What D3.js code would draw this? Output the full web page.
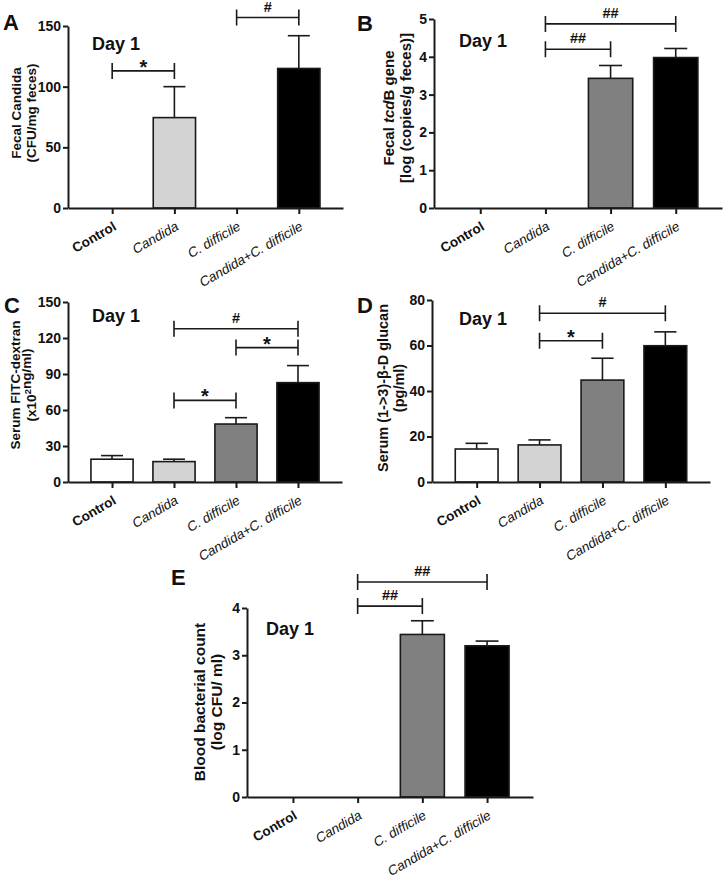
<!DOCTYPE html>
<html>
<head>
<meta charset="utf-8">
<script src="https://cdn.jsdelivr.net/npm/d3@7"></script>
<style>
  html, body { margin: 0; padding: 0; background: #fff; }
  svg { display: block; }
  text { font-family: "Liberation Sans", Arial, Helvetica, sans-serif; fill: #111; }
</style>
</head>
<body>
<svg id="chart" width="724" height="880"></svg>
<script>
// ---------------- DATA ----------------
const categories = ["Control", "Candida", "C. difficile", "Candida+C. difficile"];
const barColors = ["#ffffff", "#d3d3d3", "#808080", "#000000"];

// Panel A: Fecal Candida (CFU/mg feces)
const meanA = [0, 74.5, 0, 115];
const semA  = [0, 25.5, 0, 27];
const ticksA = [0, 50, 100, 150];
const sigA = [
  { from: 0, to: 1, y: 113, label: "*" },
  { from: 2, to: 3, y: 157, label: "#" }
];

// Panel B: Fecal tcdB gene [log (copies/g feces)]
const meanB = [0, 0, 3.43, 3.98];
const semB  = [0, 0, 0.34, 0.24];
const ticksB = [0, 1, 2, 3, 4, 5];
const sigB = [
  { from: 1, to: 3, y: 4.87, label: "##" },
  { from: 1, to: 2, y: 4.2, label: "##" }
];

// Panel C: Serum FITC-dextran (x10^2 ng/ml)
const meanC = [19, 17, 48.3, 82.8];
const semC  = [3, 2, 5.3, 14.2];
const ticksC = [0, 30, 60, 90, 120, 150];
const sigC = [
  { from: 1, to: 3, y: 127.7, label: "#" },
  { from: 2, to: 3, y: 112, label: "*" },
  { from: 1, to: 2, y: 68, label: "*" }
];

// Panel D: Serum (1->3)-β-D glucan (pg/ml)
const meanD = [14.5, 16.3, 44.8, 59.9];
const semD  = [2.5, 2.2, 9.6, 6.1];
const ticksD = [0, 20, 40, 60, 80];
const sigD = [
  { from: 1, to: 3, y: 74.2, label: "#" },
  { from: 1, to: 2, y: 62.1, label: "*" }
];

// Panel E: Blood bacterial count (log CFU/ ml)
const meanE = [0, 0, 3.44, 3.2];
const semE  = [0, 0, 0.29, 0.1];
const ticksE = [0, 1, 2, 3, 4];
const sigE = [
  { from: 1, to: 3, y: 4.55, label: "##" },
  { from: 1, to: 2, y: 4.04, label: "##" }
];

// ---------------- LAYOUT ----------------
const panels = [
  { letter: "A", mean: meanA, sem: semA, ticks: ticksA, sig: sigA,
    x0: 68, x1: 343, yTop: 26, yZero: 208,
    letterPos: [3, 30], dayPos: [92, 50],
    ylab: { lines: [["Fecal Candida"], ["(CFU/mg feces)"]], cx: [16, 31], cy: 113, size: 13.5 } },
  { letter: "B", mean: meanB, sem: semB, ticks: ticksB, sig: sigB,
    x0: 434, x1: 722, yTop: 19, yZero: 208,
    letterPos: [357, 31], dayPos: [459, 47],
    ylab: { lines: [["Fecal ", {t: "tcd", it: true}, "B gene"], ["[log (copies/g feces)]"]], cx: [389, 406], cy: 108, size: 15 } },
  { letter: "C", mean: meanC, sem: semC, ticks: ticksC, sig: sigC,
    x0: 68, x1: 342, yTop: 302, yZero: 482,
    letterPos: [4, 313], dayPos: [92, 322],
    ylab: { lines: [["Serum FITC-dextran"], ["(x10", {t: "2", sup: true}, "ng/ml)"]], cx: [15, 31], cy: 385, size: 13.5 } },
  { letter: "D", mean: meanD, sem: semD, ticks: ticksD, sig: sigD,
    x0: 432, x1: 710, yTop: 300, yZero: 482,
    letterPos: [357, 313], dayPos: [459, 325],
    ylab: { lines: [["Serum (1->3)-β-D glucan"], ["(pg/ml)"]], cx: [383, 399], cy: 388, size: 14.5 } },
  { letter: "E", mean: meanE, sem: semE, ticks: ticksE, sig: sigE,
    x0: 247, x1: 533, yTop: 608, yZero: 797,
    letterPos: [171, 585], dayPos: [266, 635],
    ylab: { lines: [["Blood bacterial count"], ["(log CFU/ ml)"]], cx: [200, 217], cy: 702, size: 15.5 } }
];

const svg = d3.select("#chart");
const INK = "#1a1a1a";

panels.forEach(p => {
  const g = svg.append("g");
  const yMax = p.ticks[p.ticks.length - 1];
  const x = d3.scalePoint().domain(categories).range([p.x0, p.x1]).padding(0.71);
  const y = d3.scaleLinear().domain([0, yMax]).range([p.yZero, p.yTop]);
  const step = x.step();
  const bw = step * 0.68;

  // bars
  const data = categories.map((c, i) => ({ c, i, m: p.mean[i], s: p.sem[i] }));
  const shown = data.filter(d => d.m > 0);
  g.selectAll("rect.bar").data(shown).enter().append("rect")
    .attr("x", d => x(d.c) - bw / 2)
    .attr("y", d => y(d.m))
    .attr("width", bw)
    .attr("height", d => y(0) - y(d.m))
    .attr("fill", d => barColors[d.i])
    .attr("stroke", INK).attr("stroke-width", 1.6);

  // error bars (upper only)
  const eb = g.selectAll("g.err").data(shown).enter().append("g");
  eb.append("line")
    .attr("x1", d => x(d.c)).attr("x2", d => x(d.c))
    .attr("y1", d => y(d.m)).attr("y2", d => y(d.m + d.s))
    .attr("stroke", INK).attr("stroke-width", 1.6);
  eb.append("line")
    .attr("x1", d => x(d.c) - bw * 0.26).attr("x2", d => x(d.c) + bw * 0.26)
    .attr("y1", d => y(d.m + d.s)).attr("y2", d => y(d.m + d.s))
    .attr("stroke", INK).attr("stroke-width", 1.6);

  // y axis
  const ya = g.append("g").attr("transform", `translate(${p.x0},0)`)
    .call(d3.axisLeft(y).tickValues(p.ticks).tickSize(5).tickSizeOuter(0).tickPadding(2).tickFormat(d3.format("d")));
  ya.select(".domain").attr("stroke", INK).attr("stroke-width", 2);
  ya.selectAll(".tick line").attr("stroke", INK).attr("stroke-width", 2);
  ya.selectAll(".tick text").attr("font-size", 14).attr("font-weight", "bold")
    .attr("font-family", "Liberation Sans, Arial, sans-serif").attr("fill", "#111");

  // x axis
  const xa = g.append("g").attr("transform", `translate(0,${p.yZero})`)
    .call(d3.axisBottom(x).tickSize(6).tickSizeOuter(0).tickFormat(""));
  xa.select(".domain").attr("stroke", INK).attr("stroke-width", 2);
  xa.selectAll(".tick line").attr("stroke", INK).attr("stroke-width", 2);
  xa.selectAll(".tick text").remove();

  // rotated category labels
  g.selectAll("text.xl").data(categories).enter().append("text")
    .attr("transform", d => `translate(${x(d) + 5},${p.yZero + 21}) rotate(-30)`)
    .attr("text-anchor", "end")
    .attr("font-size", 13.5)
    .attr("font-weight", (d, i) => i === 0 ? "bold" : "normal")
    .attr("font-style", (d, i) => i === 0 ? "normal" : "italic")
    .text(d => d);

  // significance brackets
  const sg = g.selectAll("g.sig").data(p.sig).enter().append("g");
  sg.append("path")
    .attr("d", d => {
      const xa1 = x(categories[d.from]), xb = x(categories[d.to]), yy = y(d.y);
      return `M${xa1},${yy - 8}V${yy + 8}M${xa1},${yy}H${xb}M${xb},${yy - 8}V${yy + 8}`;
    })
    .attr("fill", "none").attr("stroke", INK).attr("stroke-width", 1.6);
  sg.append("text")
    .attr("x", d => (x(categories[d.from]) + x(categories[d.to])) / 2)
    .attr("y", d => d.label === "*" ? y(d.y) + 3 : y(d.y) - 6)
    .attr("text-anchor", "middle")
    .attr("font-weight", "bold")
    .attr("font-size", d => d.label === "*" ? 20 : 14.5)
    .text(d => d.label);

  // panel letter
  g.append("text").attr("x", p.letterPos[0]).attr("y", p.letterPos[1])
    .attr("font-size", 22).attr("font-weight", "bold").attr("fill", "#000").text(p.letter);

  // Day 1
  g.append("text").attr("x", p.dayPos[0]).attr("y", p.dayPos[1])
    .attr("font-size", 18).attr("font-weight", "bold").attr("fill", "#000").text("Day 1");

  // y label
  p.ylab.lines.forEach((parts, li) => {
    const t = g.append("text")
      .attr("transform", `translate(${p.ylab.cx[li]},${p.ylab.cy}) rotate(-90)`)
      .attr("text-anchor", "middle")
      .attr("dy", "0.35em")
      .attr("font-size", p.ylab.size)
      .attr("font-weight", "bold");
    parts.forEach(part => {
      if (typeof part === "string") {
        t.append("tspan").text(part);
      } else if (part.it) {
        t.append("tspan").attr("font-style", "italic").text(part.t);
      } else if (part.sup) {
        t.append("tspan").attr("font-size", p.ylab.size * 0.7).attr("dy", "-0.45em").text(part.t);
        t.append("tspan").attr("dy", "0.32em").text("");
      }
    });
  });
});
</script>
</body>
</html>
